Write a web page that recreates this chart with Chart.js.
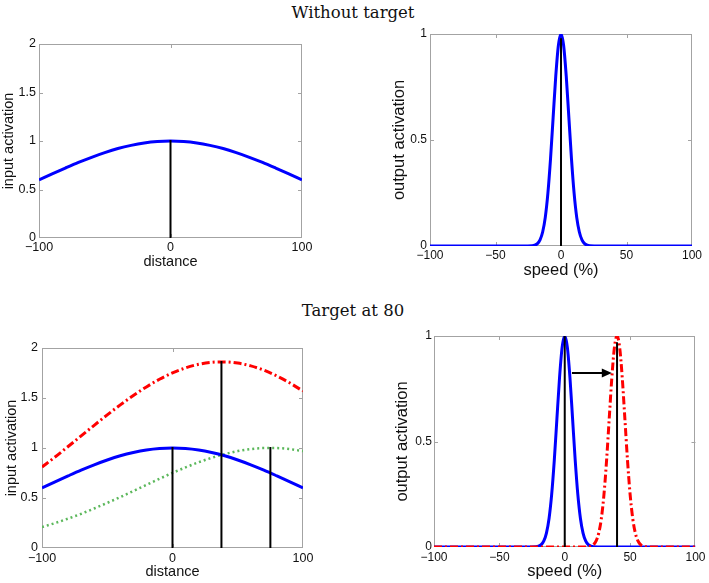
<!DOCTYPE html>
<html><head><meta charset="utf-8">
<script src="https://cdn.jsdelivr.net/npm/chart.js@4/dist/chart.umd.min.js"></script>
<style>
html,body{margin:0;padding:0;background:#fff;width:709px;height:583px;overflow:hidden;}
.box{position:absolute;}
.ttl{position:absolute;font-family:"DejaVu Serif",serif;font-size:16.5px;color:#111;white-space:nowrap;transform:translate(-50%,-50%);}
</style></head><body>
<div class="ttl" style="left:353px;top:12px">Without target</div>
<div class="ttl" style="left:353px;top:310px">Target at 80</div>
<div class="box" style="left:0px;top:30px;width:350px;height:250px"><canvas id="c1"></canvas></div>
<div class="box" style="left:355px;top:20px;width:354px;height:265px"><canvas id="c2"></canvas></div>
<div class="box" style="left:0px;top:320px;width:350px;height:263px"><canvas id="c3"></canvas></div>
<div class="box" style="left:355px;top:320px;width:354px;height:263px"><canvas id="c4"></canvas></div>
<script>
// ---- data ----
const distX = [-100,-90,-80,-70,-60,-50,-40,-30,-20,-10,0,10,20,30,40,50,60,70,80,90,100];
const inputNow = [0.600,0.661,0.721,0.779,0.832,0.880,0.922,0.955,0.980,0.995,1.000,0.995,0.980,0.955,0.922,0.880,0.832,0.779,0.721,0.661,0.600];
const inputTarget = [0.210,0.249,0.294,0.342,0.395,0.451,0.509,0.570,0.631,0.692,0.751,0.806,0.857,0.902,0.939,0.969,0.989,0.999,0.999,0.989,0.969];
const inputSum = [0.810,0.910,1.015,1.121,1.227,1.331,1.431,1.525,1.611,1.687,1.751,1.801,1.837,1.857,1.861,1.849,1.821,1.778,1.720,1.650,1.569];

const speedX = [-100,-30,-22,-20,-18,-16,-14,-12,-10,-8,-6,-4,-2,0,2,4,6,8,10,12,14,16,18,20,22,30,100];
const outputNow = [0,0,0.001,0.004,0.011,0.029,0.066,0.135,0.249,0.411,0.607,0.801,0.946,1,0.946,0.801,0.607,0.411,0.249,0.135,0.066,0.029,0.011,0.004,0.001,0,0];
const speedXShifted = [-100,10,18,20,22,24,26,28,30,32,34,36,38,40,42,44,46,48,50,52,54,56,58,60,62,70,100];
const outputTarget = [0,0,0.001,0.004,0.011,0.029,0.066,0.135,0.249,0.411,0.607,0.801,0.946,1,0.946,0.801,0.607,0.411,0.249,0.135,0.066,0.029,0.011,0.004,0.001,0,0];

const markX1 = [0];            const markTop1 = [1.01];
const markX2 = [0];            const markTop2 = [0.98];
const markX3 = [0,37.5,75];    const markTop3 = [1.01,1.87,1.01];
const markX4 = [0,40];         const markTop4 = [1.0,0.97];
const arrowFrom = [5.5,0.825]; const arrowTo = [36,0.825];

const distTicks = [-100,0,100];
const speedTicks = [-100,-50,0,50,100];
const inputTicks = [0,0.5,1,1.5,2];
const outputTicks = [0,0.5,1];

// ---- helpers ----
const FONT = '"Liberation Sans", Arial, sans-serif';
function pts(xs, ys){ return xs.map((x,i)=>({x:x,y:ys[i]})); }
function curve(xs, ys, color, width, dash){
  return {data:pts(xs,ys), borderColor:color, borderWidth:width, borderDash:dash||[],
    pointRadius:0, cubicInterpolationMode:'monotone', fill:false};
}
function marks(xs, tops){
  return xs.map((x,i)=>({data:[{x:x,y:0},{x:x,y:tops[i]}], borderColor:'#000', borderWidth:2, pointRadius:0, fill:false}));
}
const fmt = v => String(v).replace('-', '\u2212');

const framePlugin = {
  id:'frame',
  beforeDatasetsDraw(chart){
    const {ctx, chartArea:a} = chart;
    const sx = chart.scales.x, sy = chart.scales.y;
    ctx.save();
    ctx.strokeStyle = '#a3a3a3'; ctx.lineWidth = 1;
    ctx.strokeRect(Math.round(a.left)+0.5, Math.round(a.top)+0.5, Math.round(a.right-a.left)-1, Math.round(a.bottom-a.top)-1);
    ctx.beginPath();
    const L = 4;
    sx.ticks.forEach(t=>{
      const px = Math.round(sx.getPixelForValue(t.value))+0.5;
      if (px < a.left+2 || px > a.right-2) return;
      ctx.moveTo(px, a.bottom); ctx.lineTo(px, a.bottom-L);
      ctx.moveTo(px, a.top); ctx.lineTo(px, a.top+L);
    });
    sy.ticks.forEach(t=>{
      const py = Math.round(sy.getPixelForValue(t.value))+0.5;
      if (py < a.top+2 || py > a.bottom-2) return;
      ctx.moveTo(a.left, py); ctx.lineTo(a.left+L, py);
      ctx.moveTo(a.right, py); ctx.lineTo(a.right-L, py);
    });
    ctx.stroke();
    ctx.restore();
  }
};

const arrowPlugin = {
  id:'arrow',
  afterDatasetsDraw(chart, args, opts){
    if (!opts || !opts.on) return;
    const {ctx} = chart; const sx = chart.scales.x, sy = chart.scales.y;
    const x0 = sx.getPixelForValue(arrowFrom[0]), y0 = sy.getPixelForValue(arrowFrom[1]);
    const x1 = sx.getPixelForValue(arrowTo[0]),   y1 = sy.getPixelForValue(arrowTo[1]);
    ctx.save();
    ctx.strokeStyle='#000'; ctx.fillStyle='#000'; ctx.lineWidth=2;
    ctx.beginPath(); ctx.moveTo(x0,y0); ctx.lineTo(x1-8,y1); ctx.stroke();
    ctx.beginPath(); ctx.moveTo(x1,y1); ctx.lineTo(x1-10,y1-4.5); ctx.lineTo(x1-10,y1+4.5); ctx.closePath(); ctx.fill();
    ctx.restore();
  }
};

function makeChart(id, cfg){
  const c = cfg;
  new Chart(document.getElementById(id), {
    type:'line',
    data:{datasets:c.datasets},
    options:{
      responsive:true, maintainAspectRatio:false, animation:false,
      layout:{padding:{top:c.padTop, right:c.padRight, left:0, bottom:0}},
      plugins:{legend:{display:false}, tooltip:{enabled:false}, arrow:{on:!!c.arrow}},
      scales:{
        x:{type:'linear', min:-100, max:100,
          afterBuildTicks:s=>{ s.ticks = c.xTicks.map(v=>({value:v})); },
          afterFit:s=>{ s.height = c.xHeight; },
          grid:{display:false, drawTicks:false}, border:{display:false},
          ticks:{callback:v=>fmt(v), padding:c.xTickPad, maxRotation:0, autoSkip:false, color:'#111', font:{family:FONT, size:c.tickSize}},
          title:{display:true, text:c.xTitle, color:'#111', font:{family:FONT, size:c.titleSize}, padding:{top:0,bottom:c.xTitlePad}}
        },
        y:{type:'linear', min:0, max:c.yMax,
          afterBuildTicks:s=>{ s.ticks = c.yTicks.map(v=>({value:v})); },
          afterFit:s=>{ s.width = c.yWidth; },
          grid:{display:false, drawTicks:false}, border:{display:false},
          ticks:{callback:v=>fmt(v), padding:c.yTickPad, autoSkip:false, color:'#111', font:{family:FONT, size:c.tickSize}},
          title:{display:true, text:c.yTitle, color:'#111', font:{family:FONT, size:c.titleSize}, padding:{top:c.yTitlePad,bottom:0}}
        }
      }
    },
    plugins:[framePlugin, arrowPlugin]
  });
}

makeChart('c1', {
  datasets:[...marks(markX1, markTop1), curve(distX, inputNow, '#0000ff', 3)],
  padTop:14, padRight:48, xHeight:42, yWidth:39, yMax:2,
  xTicks:distTicks, yTicks:inputTicks, xTitle:'distance', yTitle:'input activation',
  tickSize:12.5, titleSize:14.5, xTickPad:2, yTickPad:3, xTitlePad:9, yTitlePad:0
});
makeChart('c2', {
  datasets:[...marks(markX2, markTop2), curve(speedX, outputNow, '#0000ff', 3)],
  padTop:14, padRight:17, xHeight:39, yWidth:75, yMax:1,
  xTicks:speedTicks, yTicks:outputTicks, xTitle:'speed (%)', yTitle:'output activation',
  tickSize:12, titleSize:16.5, xTickPad:2.5, yTickPad:3, xTitlePad:5, yTitlePad:35
});
makeChart('c3', {
  datasets:[...marks(markX3, markTop3), curve(distX, inputNow, '#0000ff', 3),
            curve(distX, inputSum, '#ff0000', 3, [8,3,2,3]), curve(distX, inputTarget, '#5cb85c', 2.5, [2,3])],
  padTop:28, padRight:47, xHeight:35, yWidth:42, yMax:2,
  xTicks:distTicks, yTicks:inputTicks, xTitle:'distance', yTitle:'input activation',
  tickSize:12.5, titleSize:14.5, xTickPad:3, yTickPad:4, xTitlePad:2.3, yTitlePad:3.3
});
makeChart('c4', {
  datasets:[...marks(markX4, markTop4), curve(speedXShifted, outputTarget, '#ff0000', 3, [8,3,2,3]),
            curve(speedX, outputNow, '#0000ff', 3)],
  padTop:16, padRight:13, xHeight:36, yWidth:79, yMax:1,
  xTicks:speedTicks, yTicks:outputTicks, xTitle:'speed (%)', yTitle:'output activation',
  tickSize:12, titleSize:16.5, xTickPad:3.5, yTickPad:2, xTitlePad:2, yTitlePad:38, arrow:true
});
</script>
</body></html>
